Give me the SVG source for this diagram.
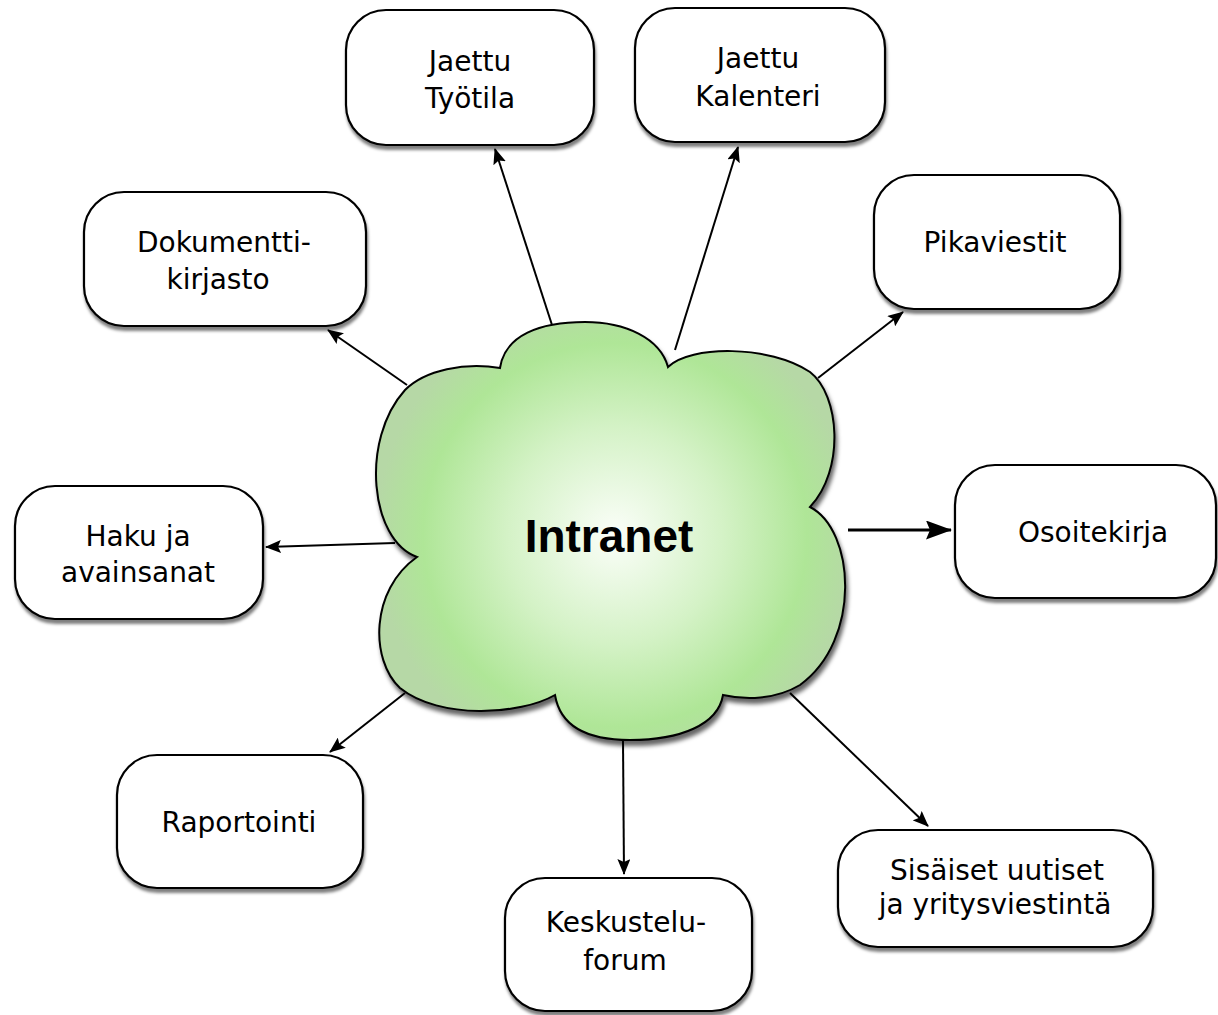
<svg xmlns="http://www.w3.org/2000/svg" width="1218" height="1015" viewBox="0 0 1218 1015">
<style>
.node rect{fill:#fff;stroke:#000;stroke-width:2.2;filter:url(#sh)}
.node text{font-family:"DejaVu Sans","Liberation Sans",sans-serif;font-size:28px;fill:#000;text-anchor:middle}
.conn line{stroke:#000;stroke-width:2;marker-end:url(#ah)}
</style>
<defs>
<marker id="ah" markerUnits="userSpaceOnUse" markerWidth="16" markerHeight="13" viewBox="0 0 16 13" refX="15" refY="6.5" orient="auto"><path d="M0,0 L16,6.5 L0,13 L3,6.5 z" fill="#000"/></marker>
<marker id="ahb" markerUnits="userSpaceOnUse" markerWidth="26" markerHeight="19" viewBox="0 0 26 19" refX="25" refY="9.5" orient="auto"><path d="M0,0 L26,9.5 L0,19 L4,9.5 z" fill="#000"/></marker>
<filter id="sh" x="-10%" y="-10%" width="125%" height="130%"><feDropShadow dx="1" dy="4" stdDeviation="1.5" flood-color="#000" flood-opacity="0.5"/></filter>
<filter id="csh" x="-10%" y="-10%" width="125%" height="130%"><feDropShadow dx="2" dy="5" stdDeviation="2" flood-color="#000" flood-opacity="0.6"/></filter>
<radialGradient id="cg" cx="615" cy="535" r="240" gradientUnits="userSpaceOnUse">
<stop offset="0" stop-color="#fbfef9"/>
<stop offset="0.45" stop-color="#d4f2c6"/>
<stop offset="0.8" stop-color="#afe697"/>
<stop offset="1" stop-color="#b6d8a6"/>
</radialGradient>
</defs>
<g id="connectors" class="conn">
<line x1="552" y1="325" x2="495" y2="149"/>
<line x1="675" y1="350" x2="738" y2="147"/>
<line x1="818" y1="378" x2="903" y2="312"/>
<line x1="407" y1="385" x2="328" y2="330"/>
<line x1="848" y1="530" x2="951" y2="530" style="stroke-width:3;marker-end:url(#ahb)"/>
<line x1="395" y1="543" x2="266" y2="547"/>
<line x1="405" y1="693" x2="330" y2="752"/>
<line x1="623" y1="740" x2="624" y2="874"/>
<line x1="790" y1="693" x2="928" y2="826"/>
</g>
<g id="intranet">
<path d="M500,368 C505,335 540,322 585,322 C625,322 660,338 668,367 C690,345 770,345 810,372 C840,395 845,470 810,507 C855,530 862,640 800,685 C775,700 745,700 723,695 C718,725 680,740 630,740 C585,740 560,725 555,695 C520,715 440,720 400,688 C370,660 370,590 417,557 C370,540 360,440 405,390 C425,370 465,362 500,368 Z" fill="url(#cg)" stroke="#000" stroke-width="2" filter="url(#csh)"/>
<text x="609" y="552" style="font-family:'Liberation Sans','DejaVu Sans',sans-serif;font-weight:bold;font-size:46px;text-anchor:middle">Intranet</text>
</g>
<g id="n-tyotila" class="node"><rect x="346" y="10" width="248" height="135" rx="40"/><text x="470" y="71">Jaettu</text><text x="470" y="108">Työtila</text></g>
<g id="n-kalenteri" class="node"><rect x="635" y="8" width="250" height="134" rx="40"/><text x="758" y="68">Jaettu</text><text x="758" y="106">Kalenteri</text></g>
<g id="n-pikaviestit" class="node"><rect x="874" y="175" width="246" height="134" rx="40"/><text x="995" y="252">Pikaviestit</text></g>
<g id="n-dokumentti" class="node"><rect x="84" y="192" width="282" height="134" rx="40"/><text x="224" y="252">Dokumentti-</text><text x="218" y="289">kirjasto</text></g>
<g id="n-osoitekirja" class="node"><rect x="955" y="465" width="261" height="133" rx="40"/><text x="1093" y="542">Osoitekirja</text></g>
<g id="n-haku" class="node"><rect x="15" y="486" width="248" height="133" rx="40"/><text x="138" y="546">Haku ja</text><text x="138" y="582">avainsanat</text></g>
<g id="n-raportointi" class="node"><rect x="117" y="755" width="246" height="133" rx="40"/><text x="239" y="832">Raportointi</text></g>
<g id="n-keskustelu" class="node"><rect x="505" y="878" width="247" height="133" rx="40"/><text x="626" y="932">Keskustelu-</text><text x="625" y="970">forum</text></g>
<g id="n-uutiset" class="node"><rect x="838" y="830" width="315" height="117" rx="40"/><text x="997" y="880">Sisäiset uutiset</text><text x="995" y="914">ja yritysviestintä</text></g>
</svg>
